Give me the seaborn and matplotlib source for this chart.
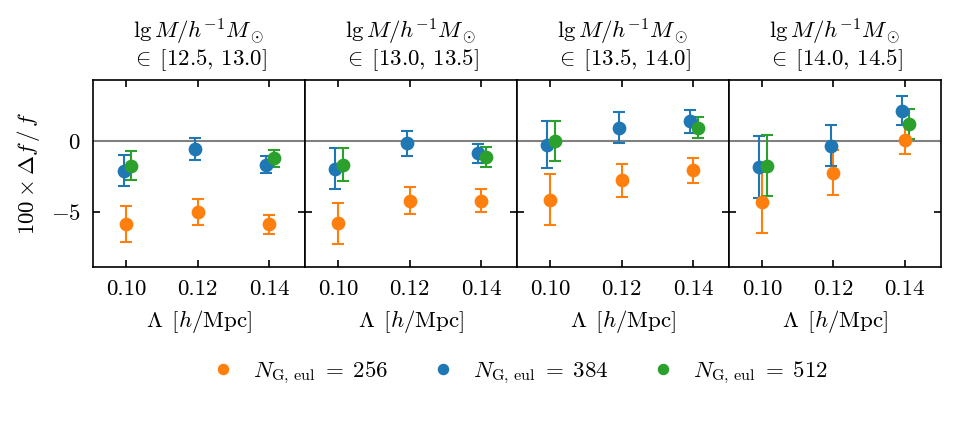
import numpy as np
import pandas as pd
import matplotlib
matplotlib.use("Agg")
import matplotlib.pyplot as plt
import seaborn as sns

# data
lam = [0.10, 0.12, 0.14]
mass_bins = ["[12.5,\\, 13.0]", "[13.0,\\, 13.5]", "[13.5,\\, 14.0]", "[14.0,\\, 14.5]"]
grids = [256, 384, 512]
shift = {256: 0.0, 384: -0.0008, 512: 0.0013}

# 100 * df/f, one list per mass bin, NaN = not measured
val_256 = [[-5.89, -5.04, -5.89], [-5.82, -4.20, -4.20], [-4.13, -2.77, -2.07], [-4.34, -2.23, 0.10]]
err_256 = [[1.27, 0.92, 0.66], [1.43, 0.95, 0.80], [1.83, 1.17, 0.88], [2.14, 1.58, 1.00]]
val_384 = [[-2.11, -0.56, -1.66], [-1.95, -0.16, -0.87], [-0.26, 0.94, 1.39], [-1.81, -0.33, 2.14]]
err_384 = [[1.10, 0.80, 0.62], [1.43, 0.88, 0.65], [1.65, 1.08, 0.79], [2.19, 1.45, 1.02]]
val_512 = [[-1.73, np.nan, -1.22], [-1.67, np.nan, -1.13], [-0.02, np.nan, 0.94], [-1.74, np.nan, 1.22]]
err_512 = [[1.03, np.nan, 0.60], [1.18, np.nan, 0.72], [1.42, np.nan, 0.74], [2.16, np.nan, 1.05]]

vals = {256: val_256, 384: val_384, 512: val_512}
errs = {256: err_256, 384: err_384, 512: err_512}

rows = []
for g in grids:
    for b in range(len(mass_bins)):
        for i, l in enumerate(lam):
            rows.append({"grid": g, "bin": b, "lam": l, "y": vals[g][b][i], "err": errs[g][b][i]})
df = pd.DataFrame(rows).dropna()

sns.set_style("ticks")
plt.rcParams["font.family"] = ["cmr10", "DejaVu Serif"]
plt.rcParams["mathtext.fontset"] = "cm"
plt.rcParams["axes.formatter.use_mathtext"] = True
plt.rcParams["font.size"] = 11
plt.rcParams["xtick.direction"] = "in"
plt.rcParams["ytick.direction"] = "in"
plt.rcParams["xtick.top"] = True
plt.rcParams["ytick.right"] = True
for k in ["text.color", "axes.labelcolor", "xtick.color", "ytick.color", "axes.edgecolor"]:
    plt.rcParams[k] = "black"

tab = sns.color_palette("tab10")
colors = {256: tab[1], 384: tab[0], 512: tab[2]}

fig, axes = plt.subplots(1, 4, figsize=(6.407, 2.827), dpi=150, sharey=True)
fig.subplots_adjust(left=0.097, right=0.979, top=0.811, bottom=0.370, wspace=0)

for b, ax in enumerate(axes):
    ax.axhline(0, color="gray", lw=1, zorder=1)
    for g in grids:
        d = df[(df["grid"] == g) & (df["bin"] == b)]
        ax.errorbar(d["lam"] + shift[g], d["y"], yerr=d["err"], fmt="o", color=colors[g],
                    ms=5.6, capsize=3, elinewidth=1, capthick=1, zorder=2)
    ax.set_xlim(0.0907, 0.1501)
    ax.set_ylim(-8.9, 4.3)
    ax.set_xticks(lam)
    ax.set_xticklabels(["0.10", "0.12", "0.14"])
    ax.set_yticks([0, -5])
    ax.tick_params(length=3.5, width=0.8, labelsize=11, pad=6)
    for s in ax.spines.values():
        s.set_linewidth(0.8)
    ax.set_title(r"$\lg M/h^{-1}M_\odot$" + "\n" + r"$\in\; " + mass_bins[b] + "$", fontsize=11, pad=7,
                 linespacing=1.05)
    ax.set_xlabel(r"$\Lambda\ \,[h/\mathrm{Mpc}]$", fontsize=11)
axes[0].set_ylabel(r"$100\times\Delta f\,/\,f$", fontsize=11)

handles = [plt.Line2D([], [], marker="o", ls="", color=colors[g], ms=4.5) for g in grids]
labels = [r"$N_{\mathrm{G,\,eul}}\;=\;%d$" % g for g in grids]
fig.legend(handles, labels, loc="center", bbox_to_anchor=(0.535, 0.12), ncol=3, frameon=False,
           handletextpad=0.3, columnspacing=1.4, fontsize=11)

fig.savefig("out.png", dpi=150)
